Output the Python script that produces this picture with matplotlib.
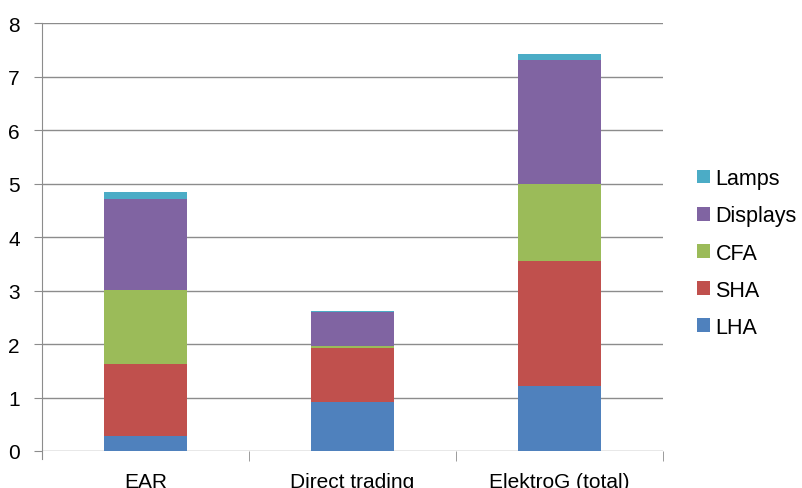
import matplotlib.pyplot as plt
import numpy as np

plt.rcParams['font.family'] = ['Liberation Sans', 'DejaVu Sans']

categories = ['EAR', 'Direct trading', 'ElektroG (total)']
series_names = ['LHA', 'SHA', 'CFA', 'Displays', 'Lamps']
lha = [0.28, 0.91, 1.21]
sha = [1.34, 1.01, 2.35]
cfa = [1.39, 0.05, 1.43]
displays = [1.70, 0.63, 2.33]
lamps = [0.13, 0.02, 0.11]
colors = ['#4F81BD', '#C0504D', '#9BBB59', '#8064A2', '#4BACC6']

fig = plt.figure(figsize=(8.03, 4.89), dpi=100)
ax = fig.add_axes([0.0523, 0.0757, 0.7734, 0.8743])

x = np.arange(len(categories))
bottom = np.zeros(len(categories))
handles = []
for name, vals, c in zip(series_names, [lha, sha, cfa, displays, lamps], colors):
    b = ax.bar(x, vals, 0.4, bottom=bottom, color=c, label=name, zorder=3)
    handles.append(b)
    bottom += np.array(vals)

grid_color = '#8C8C8C'
ax.set_ylim(0, 8)
ax.set_xlim(-0.5, 2.5)
ax.set_yticks(range(0, 9))
ax.yaxis.grid(True, color=grid_color, linewidth=1.0, zorder=0)
ax.set_axisbelow(True)

for s in ['top', 'right', 'bottom']:
    ax.spines[s].set_visible(False)
ax.spines['left'].set_color(grid_color)
ax.spines['left'].set_bounds(-0.15, 8)

ax.set_xticks(x)
ax.set_xticklabels(categories)
ax.set_xticks([0.5, 1.5, 2.5], minor=True)
ax.tick_params(axis='x', which='major', length=0, pad=15, labelsize=15)
ax.tick_params(axis='x', which='minor', length=7, color=grid_color)
ax.tick_params(axis='y', length=6, color=grid_color, labelsize=15, pad=10)

ax.legend(handles[::-1], series_names[::-1], loc='center left',
          bbox_to_anchor=(1.055, 0.463), frameon=False, fontsize=15.5,
          handlelength=0.6, handleheight=0.6, handletextpad=0.25,
          labelspacing=0.75, borderaxespad=0, borderpad=0)

fig.savefig('out.png', dpi=100)
